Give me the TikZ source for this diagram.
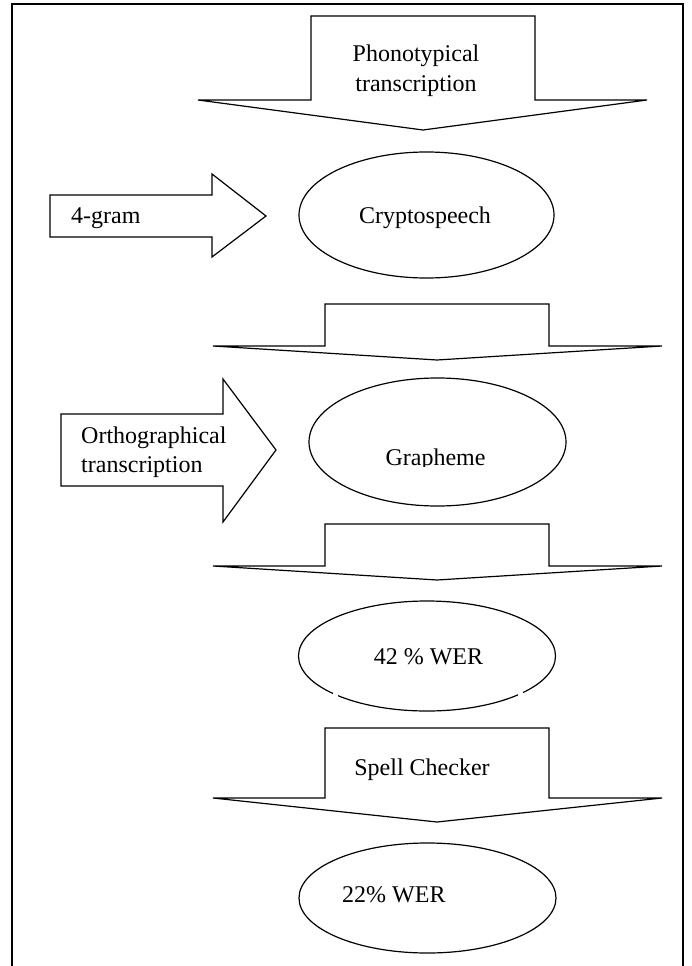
\documentclass[tikz,border=0pt]{standalone}
\usepackage{fontspec}
\setmainfont{Liberation Serif}
\usetikzlibrary{shapes.geometric}

\tikzset{
  blockarrow/.style={draw, line width=1.2pt, line join=miter, fill=white},
  oval/.style={ellipse, draw, line width=1.2pt, inner sep=0pt},
  label text/.style={inner sep=0pt, font=\fontsize{24}{28}\selectfont},
  frame/.style={draw, line width=1.6pt}
}

% down block arrow: shaft left/right, shaft top, head top, head left/right, tip
\newcommand{\downarrowblock}[8]{%
  \draw[blockarrow] (#1,#3) -- (#2,#3) -- (#2,#4) -- (#6,#4) -- (#7,#8) -- (#5,#4) -- (#1,#4) -- cycle;}
% right block arrow: shaft left, head base x, shaft top/bottom, head top/bottom, tip
\newcommand{\rightarrowblock}[8]{%
  \draw[blockarrow] (#1,#3) -- (#2,#3) -- (#2,#5) -- (#7,#8) -- (#2,#6) -- (#2,#4) -- (#1,#4) -- cycle;}

\begin{document}
\begin{tikzpicture}[x=1pt, y=-1pt]
\useasboundingbox (0,0) rectangle (692,966);

% open frame
\draw[frame] (12,966) -- (12,4) -- (683,4) -- (683,966);

% first stage: phonotypical transcription
\downarrowblock{311}{535}{16}{100}{198}{647}{423}{130}
\begin{scope}
  \clip (311,16) rectangle (535,99.5);
  \node[label text, anchor=base] (phono1) at (416,62) {Phonotypical};
  \node[label text, anchor=base] (phono2) at (416,91) {transcription};
\end{scope}

% 4-gram into cryptospeech
\rightarrowblock{50}{212}{195}{237}{174}{257}{266}{216}
\node[label text, anchor=base west] (fourgram) at (71,223) {4-gram};
\node[oval, minimum width=255pt, minimum height=126pt] (crypto) at (426.5,215) {};
\node[label text, anchor=base] (cryptotext) at (425,223) {Cryptospeech};

% second stage
\downarrowblock{325}{549}{304}{346}{213}{662}{437}{360}

% orthographical transcription into grapheme
\rightarrowblock{61}{223}{414}{486}{379}{522}{276}{450}
\node[label text, anchor=base west] (ortho1) at (81,443) {Orthographical};
\node[label text, anchor=base west] (ortho2) at (81,472) {transcription};
\node[oval, minimum width=257pt, minimum height=128pt] (graph) at (437.5,442) {};
\begin{scope}
  \clip (309,378) rectangle (566,466.5);
  \node[label text, anchor=base] (graphtext) at (435.5,465.5) {Grapheme};
\end{scope}

% third stage
\downarrowblock{325}{549}{524}{566}{213}{662}{437}{580}

% 42 % WER
\node[oval, minimum width=257pt, minimum height=110pt] (wer42) at (427,656) {};
\fill[white] (333,691.5) rectangle (337.5,696.5);
\fill[white] (518,691.5) rectangle (522.5,696.5);
\node[label text, anchor=base] (wer42text) at (428.5,664) {42 \% WER};

% spell checker
\downarrowblock{325}{549}{728}{798}{213}{662}{437}{822}
\node[label text, anchor=base] (spell) at (422,775) {Spell Checker};

% 22% WER
\node[oval, minimum width=257pt, minimum height=110pt] (wer22) at (427.5,898) {};
\node[label text, anchor=base west] (wer22text) at (342,902) {22\% WER};
\end{tikzpicture}
\end{document}
